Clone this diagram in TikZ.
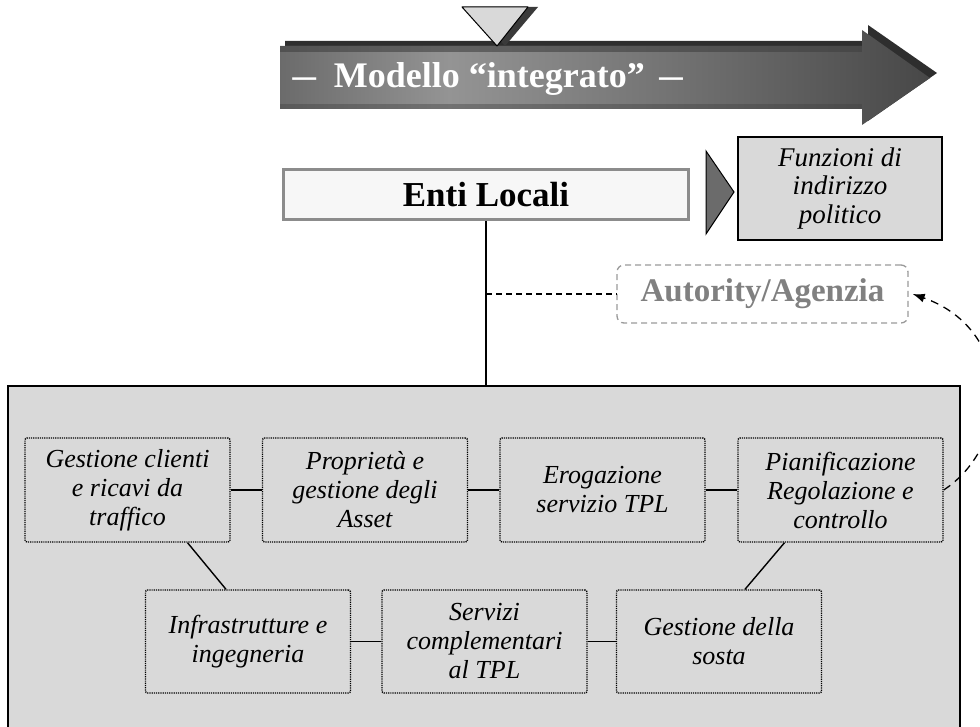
\documentclass[tikz,border=0pt]{standalone}
\usepackage{fontspec}
\setmainfont{Liberation Serif}
\usetikzlibrary{arrows.meta}
\definecolor{panelgray}{HTML}{D9D9D9}
\definecolor{darkgray}{HTML}{3A3A3A}
\definecolor{midgray}{HTML}{6B6B6B}
\pgfdeclarehorizontalshading{bandshade}{100bp}{color(0bp)=(black!58); color(25bp)=(black!58); color(38bp)=(black!42); color(55bp)=(black!55); color(75bp)=(black!72); color(100bp)=(black!76)}
\tikzset{
  funcbox/.style={draw, dash pattern=on 1.2pt off 1pt, line width=1.4pt, rounded corners=2pt,
    fill=panelgray, minimum width=205pt, minimum height=104pt, align=center,
    font=\itshape\fontsize{26}{29}\selectfont, inner sep=2pt},
  link/.style={line width=1.4pt},
  dashlink/.style={line width=1.3pt, dash pattern=on 6pt off 4pt},
}
\begin{document}
\begin{tikzpicture}[x=1pt,y=-1pt]
\clip (0,0) rectangle (980,727);

% banner arrow: shadow, then shaded body
\fill[black!82] (285,41) -- (868,41) -- (868,25) -- (937,73) -- (868,121) -- (868,105) -- (285,105) -- cycle;
\path[shading=bandshade, shading angle=0] (280,46) -- (862,46) -- (862,30) -- (930,78) -- (862,125) -- (862,109) -- (280,109) -- cycle;
\fill[black!75, opacity=0.6] (280,46) rectangle (862,52);
\fill[black!75, opacity=0.4] (280,104) rectangle (862,109);
\node[text=white, font=\bfseries\fontsize{36}{38}\selectfont, anchor=west] (banner) at (289,79)
  {\scalebox{1.3}[1]{–}\hspace{0.5em}Modello “integrato”\hspace{0.4em}\scalebox{1.3}[1]{–}};

% pointer on the banner
\fill[darkgray] (470,7) -- (538,7) -- (505,46) -- cycle;
\draw[fill=panelgray, line width=1pt, line join=round] (462,7) -- (528,7) -- (497,46) -- cycle;

% top level
\node[draw=black!45, line width=3pt, fill=black!3, minimum width=405pt, minimum height=50pt,
      font=\bfseries\fontsize{35}{38}\selectfont] (enti) at (486,195) {Enti Locali};
\draw[fill=midgray, line width=1pt] (706,151) -- (734,192) -- (706,234) -- cycle;
\node[draw, line width=1.5pt, fill=panelgray, minimum width=204pt, minimum height=103pt, align=center,
      font=\itshape\fontsize{27}{28.5}\selectfont] (funz) at (840,188.5) {Funzioni di\\indirizzo\\politico};

\node[draw=black!40, dash pattern=on 6pt off 4pt, line width=1.3pt, rounded corners=7pt,
      minimum width=291pt, minimum height=58pt, text=black!50,
      font=\bfseries\fontsize{33}{35}\selectfont] (auth) at (762.5,294) {Autority/Agenzia};

% operating panel
\node[draw, line width=2pt, fill=panelgray, minimum width=952pt, minimum height=360pt] (panel) at (484,566) {};

\node[funcbox] (b1) at (127.5,490) {Gestione clienti\\e ricavi da\\traffico};
\node[funcbox] (b2) at (365,490) {Proprietà e\\gestione degli\\Asset};
\node[funcbox] (b3) at (602.5,490) {Erogazione\\servizio TPL};
\node[funcbox] (b4) at (840.5,490) {Pianificazione\\Regolazione e\\controllo};
\node[funcbox, minimum height=103pt] (b5) at (248,641.5) {Infrastrutture e\\ingegneria};
\node[funcbox, minimum height=103pt] (b6) at (484.5,641.5) {Servizi\\complementari\\al TPL};
\node[funcbox, minimum height=103pt] (b7) at (719,641.5) {Gestione della\\sosta};

% connectors
\draw[link] (enti.south) -- (enti.south |- panel.north);
\draw[dashlink] (enti.south |- auth.west) -- (auth.west);
\draw[link] (b1) -- (b2);
\draw[link] (b2) -- (b3);
\draw[link] (b3) -- (b4);
\draw[link] (b5) -- (b6);
\draw[link] (b6) -- (b7);
\draw[link] ([xshift=60pt]b1.south) -- ([xshift=-22pt]b5.north);
\draw[link] ([xshift=-56pt]b4.south) -- ([xshift=26pt]b7.north);
\draw[line width=1.3pt, dash pattern=on 8pt off 6pt, -{Latex[length=12pt,width=9pt]}]
  (b4.east) .. controls (1012,445) and (1015,330) .. ([xshift=4pt]auth.east);
\end{tikzpicture}
\end{document}
